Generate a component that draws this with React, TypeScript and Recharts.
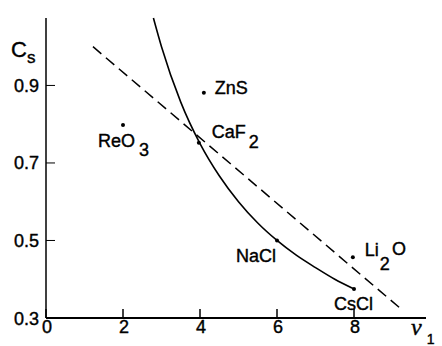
import React from 'react';
import { ComposedChart, Line, Scatter, XAxis, YAxis } from 'recharts';

const xTicks = [0, 2, 4, 6, 8];
const yTicks = [0.3, 0.5, 0.7, 0.9];

const compoundNames = ['ReO3', 'ZnS', 'CaF2', 'NaCl', 'Li2O', 'CsCl'];
const compoundNu = [2, 4.1, 3.97, 6, 7.97, 8];
const compoundCs = [0.798, 0.881, 0.752, 0.5, 0.457, 0.375];

const curveNu = [2.79, 3, 3.5, 4, 4.5, 5, 5.5, 6, 6.5, 7, 7.5, 8];
const curveCs = [1.074, 1.0, 0.857, 0.75, 0.667, 0.6, 0.545, 0.5, 0.462, 0.43, 0.4, 0.375];

const dashNu = [1.22, 9.19];
const dashCs = [1.0, 0.326];

// label text pieces: [text, baseline shift, gap]
const labelParts: Record<string, [string, number, number][]> = {
  ReO3: [['ReO', 0, 0], ['3', 9, 4]],
  ZnS: [['ZnS', 0, 0]],
  CaF2: [['CaF', 0, 0], ['2', 10, 3]],
  NaCl: [['NaCl', 0, 0]],
  Li2O: [['Li', 0, 0], ['2', 14, 1], ['O', -15, 2]],
  CsCl: [['CsCl', 0, 0]],
};
const labelOffsets: Record<string, [number, number]> = {
  ReO3: [-25, 22],
  ZnS: [11, 1],
  CaF2: [13, -5],
  NaCl: [-41, 22],
  Li2O: [12, -1],
  CsCl: [-20, 21],
};

const pointData = compoundNames.map((n, i) => ({ name: n, x: compoundNu[i], y: compoundCs[i] }));
const curveData = curveNu.map((x, i) => ({ x, y: curveCs[i] }));
const dashData = dashNu.map((x, i) => ({ x, y: dashCs[i] }));

const FONT = '"Liberation Sans", Arial, Helvetica, sans-serif';
const BOLDEN = { stroke: '#000', strokeWidth: 0.4 };

const PointShape = (props: any) => {
  const { cx, cy, payload } = props;
  const name = payload.name as string;
  const [dx, dy] = labelOffsets[name];
  return (
    <g>
      <circle cx={cx} cy={cy} r={2} fill="#000" />
      <text x={cx + dx} y={cy + dy} fontFamily={FONT} fontSize={18} fill="#000" {...BOLDEN}>
        {labelParts[name].map(([t, shift, gap], i) => (
          <tspan key={i} dy={shift} dx={gap}>
            {t}
          </tspan>
        ))}
      </text>
    </g>
  );
};

const YTick = (props: any) => {
  const { x, y, payload } = props;
  return (
    <text x={x} y={y + 6.5} textAnchor="end" fontFamily={FONT} fontSize={18} fill="#000" {...BOLDEN}>
      {payload.value.toFixed(1)}
    </text>
  );
};

const XTick = (props: any) => {
  const { x, y, payload } = props;
  return (
    <text x={x + 1} y={y + 13} textAnchor="middle" fontFamily={FONT} fontSize={18} fill="#000" {...BOLDEN}>
      {payload.value}
    </text>
  );
};

const CsLabel = (props: any) => {
  const vb = props.viewBox || { x: 0, y: 18, width: 46, height: 300 };
  return (
    <text x={vb.x + 11} y={vb.y + 39} fontFamily={FONT} fill="#000" {...BOLDEN}>
      <tspan fontSize={22}>C</tspan>
      <tspan fontSize={17} dy={6}>s</tspan>
    </text>
  );
};

const NuLabel = (props: any) => {
  const vb = props.viewBox || { x: 46, y: 318, width: 380, height: 28 };
  return (
    <text x={vb.x + vb.width - 15} y={vb.y + 17} fill="#000">
      <tspan fontFamily='"Liberation Serif", "Times New Roman", serif' fontStyle="italic" fontSize={24} {...BOLDEN}>ν</tspan>
      <tspan fontFamily={FONT} fontSize={14} dx={5} dy={9} {...BOLDEN}>1</tspan>
    </text>
  );
};

export default function App() {
  return (
    <div style={{ position: 'absolute', left: 0, top: 0, background: '#fff' }}>
      <ComposedChart width={442} height={346} margin={{ top: 18, right: 16, bottom: 0, left: 0 }}>
        <XAxis
          dataKey="x"
          type="number"
          domain={[0, 9.87]}
          ticks={xTicks}
          height={28}
          tickSize={-9}
          tickMargin={11}
          tick={<XTick />}
          axisLine={{ stroke: '#000', strokeWidth: 2 }}
          tickLine={{ stroke: '#000', strokeWidth: 1.5 }}
          label={{ content: (p: any) => <NuLabel {...p} /> }}
        />
        <YAxis
          dataKey="y"
          type="number"
          domain={[0.3, 1.074]}
          ticks={yTicks}
          width={46}
          tickSize={-9}
          tickMargin={16}
          tick={<YTick />}
          axisLine={{ stroke: '#000', strokeWidth: 1.5 }}
          tickLine={{ stroke: '#000', strokeWidth: 1 }}
          label={{ content: (p: any) => <CsLabel {...p} /> }}
        />
        <Line
          data={dashData}
          dataKey="y"
          type="linear"
          stroke="#000"
          strokeWidth={1.5}
          strokeDasharray="11 6"
          dot={false}
          activeDot={false}
          isAnimationActive={false}
        />
        <Line
          data={curveData}
          dataKey="y"
          type="monotone"
          stroke="#000"
          strokeWidth={1.6}
          dot={false}
          activeDot={false}
          isAnimationActive={false}
        />
        <Scatter data={pointData} dataKey="y" shape={<PointShape />} isAnimationActive={false} />
      </ComposedChart>
    </div>
  );
}
